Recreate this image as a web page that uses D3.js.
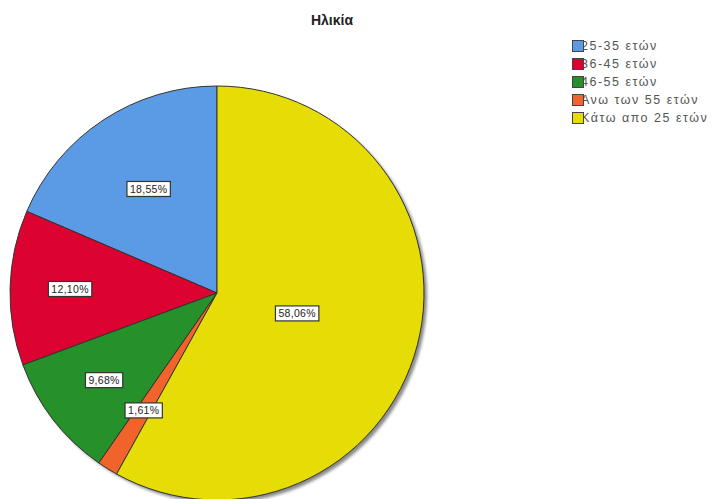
<!DOCTYPE html>
<html>
<head>
<meta charset="utf-8">
<script src="https://cdn.jsdelivr.net/npm/d3@7"></script>
<style>
  body { margin: 0; background: #fff; }
  svg { display: block; }
</style>
</head>
<body>
<svg id="chart" width="712" height="499"></svg>
<script>
// Age groups and their share of respondents (%)
const categories = ["25-35 ετών", "36-45 ετών", "46-55 ετών", "Ανω των 55 ετών", "Κάτω απο 25 ετών"];
const percentages = [18.55, 12.10, 9.68, 1.61, 58.06];
const sliceColors = ["#5b9be6", "#dd0330", "#26902a", "#f0632a", "#e6dc06"];
const title = "Ηλικία";

// Layout
const W = 712, H = 499;
const cx = 217, cy = 293, R = 207;
// Radial position of each value label, as a fraction of the radius
const labelRadius = [0.6, 0.71, 0.69, 0.67, 0.4];

const svg = d3.select("#chart");

const defs = svg.append("defs");
defs.append("filter").attr("id", "soft")
  .attr("x", "-10%").attr("y", "-10%").attr("width", "120%").attr("height", "120%")
  .append("feGaussianBlur").attr("stdDeviation", 1.5);

svg.append("text")
  .attr("x", 332).attr("y", 25)
  .attr("text-anchor", "middle")
  .attr("font-family", "Arial, 'Liberation Sans', sans-serif")
  .attr("font-weight", "bold")
  .attr("font-size", 14)
  .attr("fill", "#222")
  .text(title);

const data = categories.map((c, i) => ({ cat: c, value: percentages[i], color: sliceColors[i], idx: i }));

// Slices run counter-clockwise from 12 o'clock in category order
const pie = d3.pie()
  .sort(null)
  .value(d => d.value)
  .startAngle(0)
  .endAngle(-2 * Math.PI);

const arcs = pie(data);
const arc = d3.arc().innerRadius(0).outerRadius(R);

const g = svg.append("g").attr("transform", `translate(${cx},${cy})`);

// drop shadow
g.append("circle")
  .attr("cx", 3).attr("cy", 3).attr("r", R)
  .attr("fill", "#8a8a8a")
  .attr("filter", "url(#soft)");

g.selectAll("path.slice")
  .data(arcs)
  .join("path")
  .attr("class", "slice")
  .attr("d", arc)
  .attr("fill", d => d.data.color)
  .attr("stroke", "#333")
  .attr("stroke-width", 1)
  .attr("stroke-linejoin", "round");

const fmt = v => d3.format(".2f")(v).replace(".", ",") + "%";

const labels = g.selectAll("g.lbl")
  .data(arcs)
  .join("g")
  .attr("class", "lbl")
  .attr("transform", d => {
    const a = (d.startAngle + d.endAngle) / 2;
    const r = R * labelRadius[d.data.idx];
    return `translate(${Math.sin(a) * r},${-Math.cos(a) * r})`;
  });

labels.each(function(d) {
  const sel = d3.select(this);
  const t = sel.append("text")
    .attr("text-anchor", "middle")
    .attr("dy", "0.35em")
    .attr("font-family", "Arial, 'Liberation Sans', sans-serif")
    .attr("font-size", 10.5)
    .attr("letter-spacing", 0.3)
    .attr("fill", "#222")
    .text(fmt(d.data.value));
  const bb = t.node().getBBox();
  sel.insert("rect", "text")
    .attr("x", bb.x - 3).attr("y", bb.y - 1.5)
    .attr("width", bb.width + 6).attr("height", bb.height + 3)
    .attr("fill", "#fff")
    .attr("stroke", "#333")
    .attr("stroke-width", 1.2);
});

// Legend
const legend = svg.append("g").attr("transform", "translate(572,40)");
const rows = legend.selectAll("g.row")
  .data(data)
  .join("g")
  .attr("class", "row")
  .attr("transform", (d, i) => `translate(0,${i * 18})`);

rows.append("text")
  .attr("x", 9).attr("y", 5.5)
  .attr("dy", "0.35em")
  .attr("font-family", "Arial, 'Liberation Sans', sans-serif")
  .attr("font-size", 12.5)
  .attr("letter-spacing", 1.5)
  .attr("fill", "#555")
  .text(d => d.cat);

rows.append("rect")
  .attr("x", 0.5).attr("y", 0.5)
  .attr("width", 11).attr("height", 11)
  .attr("fill", d => d.color)
  .attr("stroke", "#444")
  .attr("stroke-width", 1);
</script>
</body>
</html>
